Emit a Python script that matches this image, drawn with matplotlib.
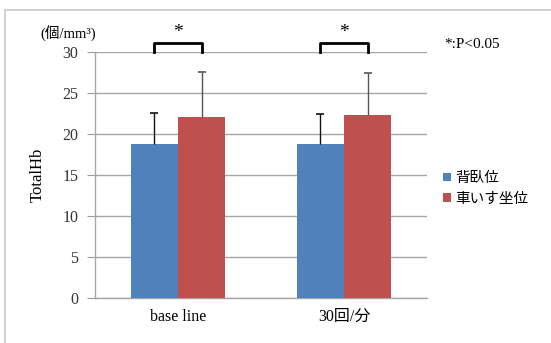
import matplotlib
matplotlib.use('Agg')
import matplotlib.pyplot as plt
import numpy as np
from matplotlib.patches import Rectangle

plt.rcParams['font.family'] = ['Liberation Serif', 'Noto Sans CJK JP']

CATEGORIES = ['base line', '30回/分']
SERIES = ['背臥位', '車いす坐位']
MEANS = {
    '背臥位': [18.8, 18.8],
    '車いす坐位': [22.1, 22.3],
}
SDS = {
    '背臥位': [3.8, 3.6],
    '車いす坐位': [5.5, 5.2],
}
COLORS = {'背臥位': '#4f81bd', '車いす坐位': '#c0504d'}
ERR_COLORS = {'背臥位': '#111111', '車いす坐位': '#555555'}
YTICKS = [0, 5, 10, 15, 20, 25, 30]

fig = plt.figure(figsize=(5.51, 3.43), dpi=100)
# outer chart frame
fig.patches.append(Rectangle((5 / 551, -0.1), 1.2, (343 - 10) / 343 + 0.1,
                             transform=fig.transFigure, fill=False,
                             edgecolor='#c8c8c8', linewidth=1.2))

ax = fig.add_axes([95 / 551, 45 / 343, 332 / 551, 246 / 343])
x = np.arange(len(CATEGORIES))
w = 0.285
for i, s in enumerate(SERIES):
    pos = x + (i - 0.5) * w
    m = np.array(MEANS[s])
    top = m + np.array(SDS[s])
    ax.bar(pos, m, width=w, color=COLORS[s], label=s, zorder=3)
    # upper-only error bars
    ax.vlines(pos, m, top, color=ERR_COLORS[s], linewidth=1.0, zorder=4)
    ax.plot(pos, top, linestyle='none', marker='_', markersize=6,
            markeredgewidth=1.2, color=ERR_COLORS[s], zorder=4)

# significance brackets
for xi in x:
    x0, x1 = xi - w / 2, xi + w / 2
    ax.plot([x0, x0, x1, x1], [30, 31.1, 31.1, 30], color='black',
            linewidth=2, clip_on=False, zorder=5)
    ax.text(xi, 31.3, '*', ha='center', va='bottom', fontsize=14,
            clip_on=False)

ax.set_xlim(-0.5, 1.5)
ax.set_ylim(0, 30)
ax.set_yticks(YTICKS)
ax.set_xticks(x)
ax.set_xticklabels(CATEGORIES, fontsize=11.5)
ax.tick_params(axis='x', length=0, pad=8)
ax.tick_params(axis='y', length=6, color='#9a9a9a', labelsize=11.5,
               labelcolor='#333333', pad=6)
ax.grid(axis='y', color='#a6a6a6', linewidth=1.0, zorder=0)
for side in ['top', 'right']:
    ax.spines[side].set_visible(False)
for side in ['left', 'bottom']:
    ax.spines[side].set_color('#a6a6a6')
    ax.spines[side].set_linewidth(1.0)

ax.set_ylabel('TotalHb', fontsize=12, labelpad=12)
fig.text(68 / 551, 1 - 33 / 343, '(個/mm³)', ha='center', va='center',
         fontsize=10.5)
fig.text(472 / 551, 1 - 45 / 343, '*:P<0.05', ha='center', va='center',
         fontsize=11)

ax.legend(loc='center left', bbox_to_anchor=(1.01, 0.445), frameon=False,
          handlelength=0.5, handleheight=0.5,
          handletextpad=0.3, labelspacing=0.45,
          prop={'family': ['Noto Sans CJK JP'], 'size': 10.5})

fig.savefig('out.png', dpi=100)
